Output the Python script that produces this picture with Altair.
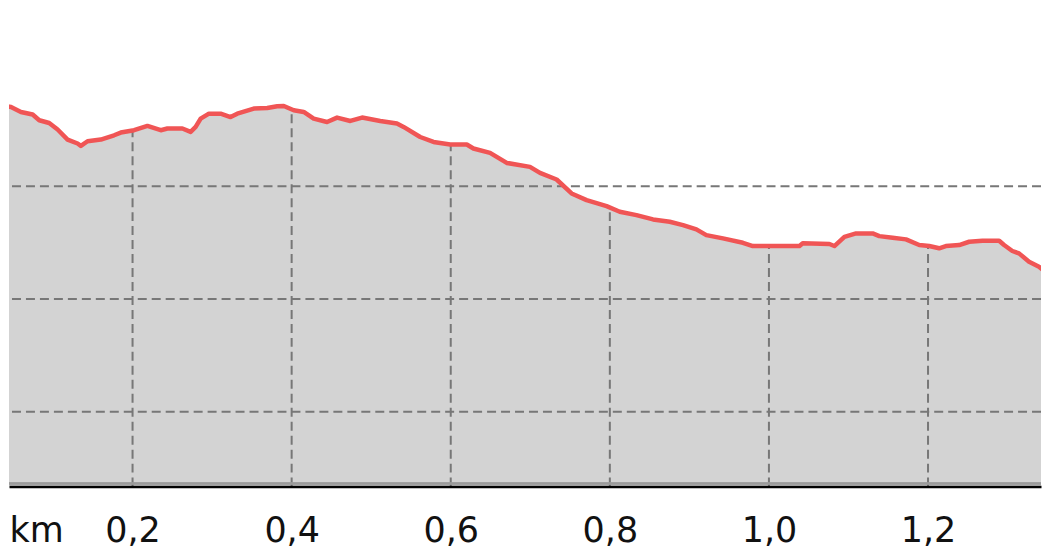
import altair as alt
import pandas as pd

km = [0.0346, 0.0472, 0.0597, 0.0744, 0.0827, 0.0952, 0.1058, 0.1183, 0.1309, 0.1350,
      0.1434, 0.1601, 0.1768, 0.1852, 0.2019, 0.2187, 0.2354, 0.2438, 0.2626, 0.2730,
      0.2793, 0.2856, 0.2960, 0.3107, 0.3232, 0.3316, 0.3524, 0.3693, 0.3818, 0.3901,
      0.4026, 0.4152, 0.4277, 0.4445, 0.4571, 0.4738, 0.4885, 0.5114, 0.5324, 0.5407,
      0.5616, 0.5783, 0.5993, 0.6202, 0.6285, 0.6494, 0.6704, 0.6996, 0.7122, 0.7331,
      0.7519, 0.7708, 0.7959, 0.8125, 0.8335, 0.8543, 0.8753, 0.8920, 0.9088, 0.9213,
      0.9422, 0.9673, 0.9798, 1.0384, 1.0425, 1.0760, 1.0823, 1.0949, 1.1095, 1.1304,
      1.1388, 1.1555, 1.1723, 1.1890, 1.2015, 1.2140, 1.2224, 1.2392, 1.2517, 1.2684,
      1.2894, 1.2956, 1.3060, 1.3144, 1.3270, 1.3395, 1.3521]
ele = [237.17, 237.02, 236.58, 236.35, 235.84, 235.60, 235.02, 234.13, 233.78, 233.57,
       233.98, 234.13, 234.51, 234.75, 234.96, 235.34, 234.96, 235.11, 235.11, 234.81,
       235.25, 235.99, 236.43, 236.43, 236.13, 236.43, 236.88, 236.93, 237.08, 237.11,
       236.73, 236.58, 235.99, 235.69, 236.08, 235.78, 236.08, 235.78, 235.55, 235.25,
       234.36, 233.92, 233.69, 233.69, 233.34, 232.95, 232.06, 231.71, 231.18, 230.59,
       229.35, 228.76, 228.23, 227.73, 227.43, 227.05, 226.84, 226.55, 226.17, 225.66,
       225.37, 224.98, 224.69, 224.69, 224.93, 224.87, 224.69, 225.51, 225.81, 225.81,
       225.57, 225.42, 225.28, 224.78, 224.69, 224.49, 224.69, 224.78, 225.07, 225.16,
       225.16, 224.78, 224.25, 224.04, 223.30, 222.86, 222.12]

grid_km = [0.2, 0.4, 0.6, 0.8, 1.0, 1.2]
grid_ele = [210, 220, 230]
x_domain = [0.04467, 1.34203]
y_domain = [203.36, 245.75]

profile = pd.DataFrame({"km": km, "ele": ele})
vgrid = pd.DataFrame({"km": grid_km})
hgrid = pd.DataFrame({"ele": grid_ele})

FONT = "DejaVu Sans"
xs = alt.Scale(domain=x_domain, nice=False, zero=False)
ys = alt.Scale(domain=y_domain, nice=False, zero=False)

x_axis = alt.Axis(
    values=grid_km,
    labelExpr="replace(format(datum.value, '.1f'), '.', ',')",
    title="km",
    titleX=0,
    titleY=55,
    titleAlign="left",
    titleBaseline="alphabetic",
    titleAngle=0,
    titleFont=FONT,
    titleFontSize=35,
    titleFontWeight="normal",
    titleColor="#111111",
    labelFont=FONT,
    labelFontSize=35,
    labelColor="#111111",
    labelBaseline="alphabetic",
    labelPadding=55,
    labelFlush=False,
    labelOverlap=False,
    ticks=False,
    tickSize=0,
    grid=False,
    domainColor="#000000",
    domainWidth=2.5,
    zindex=1,
)

X = alt.X("km:Q", scale=xs, axis=x_axis)
Yf = alt.Y("ele:Q", scale=ys, axis=None)

gray_area = alt.Chart(profile).mark_area(color="#d3d3d3", clip=True).encode(
    x=X, y=Yf, y2=alt.datum(y_domain[0])
)
vrules = alt.Chart(vgrid).transform_calculate(
    lo=str(y_domain[0]), hi="240"
).mark_rule(
    color="#777777", strokeWidth=2, strokeDash=[9, 5]
).encode(x=X, y=alt.Y("lo:Q", scale=ys, axis=None), y2="hi:Q")
white_area = alt.Chart(profile).mark_area(color="#ffffff", clip=True).encode(
    x=X, y=Yf, y2=alt.datum(y_domain[1])
)
hrules = alt.Chart(hgrid).mark_rule(
    color="#777777", strokeWidth=2, strokeDash=[9, 5]
).encode(y=Yf)
line = alt.Chart(profile).mark_line(
    color="#f05555", strokeWidth=4.5, strokeJoin="round", clip=True
).encode(x=X, y=Yf)
band = alt.Chart(hgrid).mark_rule(color="#9a9a9a", strokeWidth=2).encode(
    y=alt.datum(y_domain[0] + 0.27)
)

chart = alt.layer(gray_area, vrules, white_area, hrules, line, band).properties(
    width=1034, height=479, padding=0, background="#ffffff"
).configure_view(stroke=None)

chart.save("out.html", embed_options={"renderer": "svg", "actions": False})
